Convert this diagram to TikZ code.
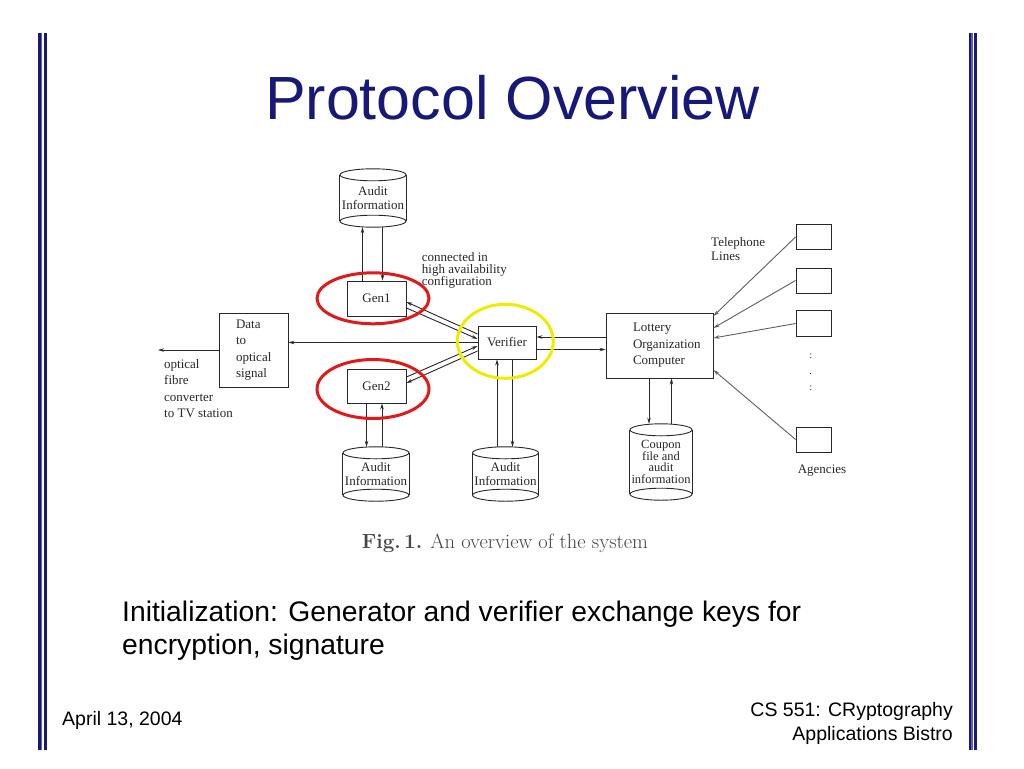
\documentclass[tikz,border=0pt]{standalone}
\usepackage{fontspec}
\newfontfamily\arial{Liberation Sans}
\newfontfamily\tnr{Liberation Serif}
\usetikzlibrary{shapes.geometric,arrows.meta,calc}
\definecolor{navy}{RGB}{24,24,120}
\definecolor{midblue}{RGB}{95,95,175}
\definecolor{ringred}{RGB}{225,25,25}
\definecolor{ringyellow}{RGB}{240,235,0}
\definecolor{ink}{RGB}{40,40,40}
\definecolor{agencyink}{RGB}{95,95,95}
\definecolor{capgray}{RGB}{70,70,70}
\tikzset{
  diag/.style={font=\tnr\fontsize{13}{13.5}\selectfont, text=ink},
  box/.style={draw=ink, line width=0.9pt, rectangle, inner sep=0pt, diag},
  cylnode/.style={inner sep=0pt, diag, align=center},
  ln/.style={draw=ink, line width=0.9pt},
  arr/.style={ln, -{Stealth[length=6pt,width=3.5pt]}},
  agarr/.style={draw=agencyink, line width=0.9pt, -{Stealth[length=6pt,width=3.5pt]}},
  redring/.style={ellipse, draw=ringred, line width=3pt, inner sep=0pt},
  yellowring/.style={ellipse, draw=ringyellow, line width=3pt, inner sep=0pt},
  slide/.style={font=\arial\fontsize{28.3}{33}\selectfont, text=black},
  foot/.style={font=\arial\fontsize{19.5}{24}\selectfont, text=black},
}
\newcommand\drawcyl[2]{%
  \draw[ln] ([yshift=-6pt]#1.north west) -- ([yshift=6pt]#1.south west)
            ([yshift=-6pt]#1.north east) -- ([yshift=6pt]#1.south east);
  \draw[ln] ([yshift=-6pt]#1.north) ellipse [x radius=#2, y radius=6pt];
  \draw[ln] ([yshift=6pt]#1.south) ellipse [x radius=#2, y radius=6pt];
}
\begin{document}
\begin{tikzpicture}[x=1pt,y=-1pt]
\useasboundingbox (0,0) rectangle (1024,768);
\fill[white] (0,0) rectangle (1024,768);

% side bars
\fill[navy] (38,33) rectangle (40.8,750);
\fill[midblue] (40.8,33) rectangle (42.3,750);
\fill[navy] (44,33) rectangle (46.5,750);
\fill[navy] (968.5,33) rectangle (971,750);
\fill[midblue] (971,33) rectangle (972.5,750);
\fill[navy] (974,33) rectangle (976.5,750);

% title
\node[font=\arial\fontsize{61}{61}\selectfont, text=navy, anchor=base, inner sep=0pt] (title) at (512.5,119) {Protocol Overview};

% cylinders
\node[cylnode, minimum width=66pt, minimum height=58pt] (aud1) at (373,198) {Audit\\Information};
\node[cylnode, minimum width=66pt, minimum height=54pt] (aud2) at (376,474) {Audit\\Information};
\node[cylnode, minimum width=66pt, minimum height=54pt] (aud3) at (505.5,474) {Audit\\Information};
\node[cylnode, minimum width=62pt, minimum height=76pt, font=\tnr\fontsize{12.5}{11.5}\selectfont] (coupon) at (661,462) {Coupon\\file and\\audit\\information};
\drawcyl{aud1}{33pt}
\drawcyl{aud2}{33pt}
\drawcyl{aud3}{33pt}
\drawcyl{coupon}{31pt}

% boxes
\node[box, minimum width=59pt, minimum height=35pt] (gen1) at (376.5,298.5) {Gen1};
\node[box, minimum width=59pt, minimum height=34pt] (gen2) at (376.5,386) {Gen2};
\node[box, minimum width=58pt, minimum height=33pt] (ver) at (507,342.5) {Verifier};
\node[box, minimum width=69pt, minimum height=74pt, align=left, text width=35pt,
      font=\tnr\fontsize{13}{16.5}\selectfont] (data) at (253.5,350) {Data\\to\\optical\\signal};
\node[box, minimum width=107pt, minimum height=65pt, align=left, text width=53pt,
      font=\tnr\fontsize{13}{16.5}\selectfont] (lot) at (659.5,345.5) {Lottery\\Organization\\Computer};
\node[box, minimum width=35pt, minimum height=25pt] (ag1) at (813.5,237) {};
\node[box, minimum width=35pt, minimum height=25pt] (ag2) at (813.5,280.5) {};
\node[box, minimum width=35pt, minimum height=26pt] (ag3) at (813.5,323.5) {};
\node[box, minimum width=35pt, minimum height=25pt] (ag4) at (813.5,439.5) {};

% labels
\node[diag, align=left, anchor=west, inner sep=0pt, font=\tnr\fontsize{13}{12}\selectfont] (conn) at (421.7,270) {connected in\\high availability\\configuration};
\node[diag, align=left, anchor=west, inner sep=0pt, font=\tnr\fontsize{13}{16.5}\selectfont] (fibre) at (164,388.5) {optical\\fibre\\converter\\to TV station};
\node[diag, align=left, anchor=west, inner sep=0pt, font=\tnr\fontsize{13}{14.5}\selectfont] (tel) at (711,249) {Telephone\\Lines};
\node[diag, inner sep=0pt] (agl) at (822,471) {Agencies};
\node[diag, align=center, inner sep=0pt, font=\tnr\fontsize{10}{16}\selectfont] (dots) at (810.7,372) {:\\.\\:};

% connectors: generators and audit stores
\draw[arr] ([xshift=-14pt]gen1.north) -- ([xshift=-14pt]gen1.north |- aud1.south);
\draw[arr] ([xshift=6pt]gen1.north |- aud1.south) -- ([xshift=6pt]gen1.north);
\draw[arr] ([xshift=-10pt]gen2.south) -- ([xshift=-10pt]gen2.south |- aud2.north);
\draw[arr] ([xshift=5.5pt]gen2.south |- aud2.north) -- ([xshift=5.5pt]gen2.south);
\draw[arr] ([xshift=-10pt]ver.south |- aud3.north) -- ([xshift=-10pt]ver.south);
\draw[arr] ([xshift=5.5pt]ver.south) -- ([xshift=5.5pt]ver.south |- aud3.north);
\draw[arr] ([xshift=-10.5pt]lot.south) -- ([xshift=-10.5pt]lot.south |- coupon.north);
\draw[arr] ([xshift=12pt]lot.south |- coupon.north) -- ([xshift=12pt]lot.south);

% verifier to data converter and output
\coordinate (out) at (158,350);
\draw[arr] (ver.west) -- (ver.west -| data.east);
\draw[arr] (data.west) -- (out);

% generators <-> verifier
\draw[arr] ([yshift=8.5pt]ver.west) -- ([yshift=-3.5pt]gen1.east);
\draw[arr] ([yshift=-9.5pt]gen1.east) -- ([yshift=3.5pt]ver.west);
\draw[arr] ([yshift=9pt]gen2.east) -- ([yshift=-3.5pt]ver.west);
\draw[arr] ([yshift=-8.5pt]ver.west) -- ([yshift=3pt]gen2.east);

% verifier <-> lottery
\draw[arr] ([yshift=5.5pt]ver.east -| lot.west) -- ([yshift=5.5pt]ver.east);
\draw[arr] ([yshift=-7pt]ver.east) -- ([yshift=-7pt]ver.east -| lot.west);

% agencies
\draw[agarr] (ag1.west) -- ([yshift=29.5pt]lot.east);
\draw[agarr] (ag2.west) -- ([yshift=17.5pt]lot.east);
\draw[agarr] (ag3.west) -- ([yshift=7.5pt]lot.east);
\draw[agarr] (ag4.west) -- ([yshift=-24.5pt]lot.east);

% highlight rings
\node[redring, minimum width=112pt, minimum height=51pt] (ring1) at (373,298.3) {};
\node[redring, minimum width=112pt, minimum height=59pt] (ring2) at (373,389) {};
\node[yellowring, minimum width=96pt, minimum height=74pt] (ring3) at (505.3,341.3) {};

% caption
\node[font=\fontsize{20.5}{20.5}\selectfont, text=capgray, anchor=base, inner sep=0pt] (cap) at (505,548) {{\bfseries Fig.\,1.} An overview of the system};

% body text
\node[slide, anchor=base west, inner sep=0pt] (body1) at (122,621) {Initialization: Generator and verifier exchange keys for};
\node[slide, anchor=base west, inner sep=0pt] (body2) at (122,654) {encryption, signature};

% footer
\node[foot, anchor=base west, inner sep=0pt] (date) at (62,725) {April 13, 2004};
\node[foot, anchor=base east, inner sep=0pt] (course1) at (953,716) {CS 551: CRyptography};
\node[foot, anchor=base east, inner sep=0pt] (course2) at (953,740) {Applications Bistro};
\end{tikzpicture}
\end{document}
